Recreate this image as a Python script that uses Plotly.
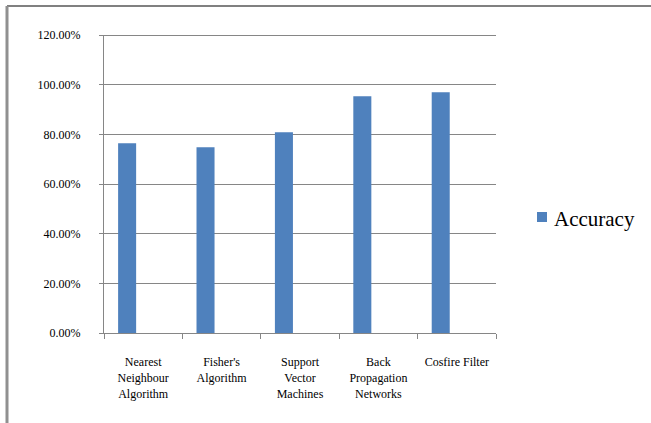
import plotly.graph_objects as go

categories = ["Nearest<br>Neighbour<br>Algorithm", "Fisher's<br>Algorithm",
              "Support<br>Vector<br>Machines", "Back<br>Propagation<br>Networks",
              "Cosfire Filter"]
accuracy = [0.764, 0.748, 0.808, 0.953, 0.969]
series_name = "Accuracy"

W, H = 651, 423
L, R, T, B = 104, 155, 35, 90
pw, ph = W - L - R, H - T - B
FONT = "Liberation Serif, Times New Roman, serif"

def px_x(px):
    return (px - L) / pw

def px_y(py):
    return (H - B - py) / ph

fig = go.Figure()
fig.add_trace(go.Bar(x=categories, y=accuracy, name=series_name,
                     marker=dict(color="#4F81BD", line=dict(width=0)),
                     width=0.23, offset=-0.32, showlegend=False))

fig.update_layout(
    width=W, height=H,
    margin=dict(l=L, r=R, t=T, b=B, autoexpand=False),
    paper_bgcolor="white", plot_bgcolor="white",
    font=dict(family=FONT, size=12, color="black"),
    showlegend=False,
    xaxis=dict(type="category", showgrid=False, showline=True, linecolor="#868686",
               linewidth=1, ticks="outside", ticklen=5, tickcolor="#868686",
               tickson="boundaries", tickangle=0, ticklabelstandoff=18,
               tickfont=dict(size=12, family=FONT, color="black"), zeroline=False),
    yaxis=dict(range=[0, 1.2], dtick=0.2, tickformat=".2%", showgrid=True,
               gridcolor="#868686", gridwidth=1, showline=True, linecolor="#868686",
               linewidth=1, ticks="outside", ticklen=4, tickcolor="#868686",
               ticklabelstandoff=16, zeroline=False,
               tickfont=dict(size=12, family=FONT, color="black")),
)

# legend (drawn manually)
fig.add_shape(type="rect", xref="paper", yref="paper",
              x0=px_x(537), x1=px_x(547), y0=px_y(222), y1=px_y(212),
              fillcolor="#4F81BD", line=dict(width=0))
fig.add_annotation(xref="paper", yref="paper", x=px_x(552), y=px_y(219),
                   xanchor="left", yanchor="middle", showarrow=False,
                   text=series_name, font=dict(size=21, family=FONT, color="black"))

# outer chart frame (top and left edges visible)
fig.add_shape(type="line", xref="paper", yref="paper",
              x0=px_x(7), x1=px_x(651), y0=px_y(6), y1=px_y(6),
              line=dict(color="#808080", width=2))
fig.add_shape(type="line", xref="paper", yref="paper",
              x0=px_x(7), x1=px_x(7), y0=px_y(6), y1=px_y(423),
              line=dict(color="#909090", width=3))
# thicker top gridline
fig.add_shape(type="line", xref="paper", yref="y",
              x0=0, x1=1, y0=1.2, y1=1.2,
              line=dict(color="#868686", width=2))

fig.write_html("out.html")
